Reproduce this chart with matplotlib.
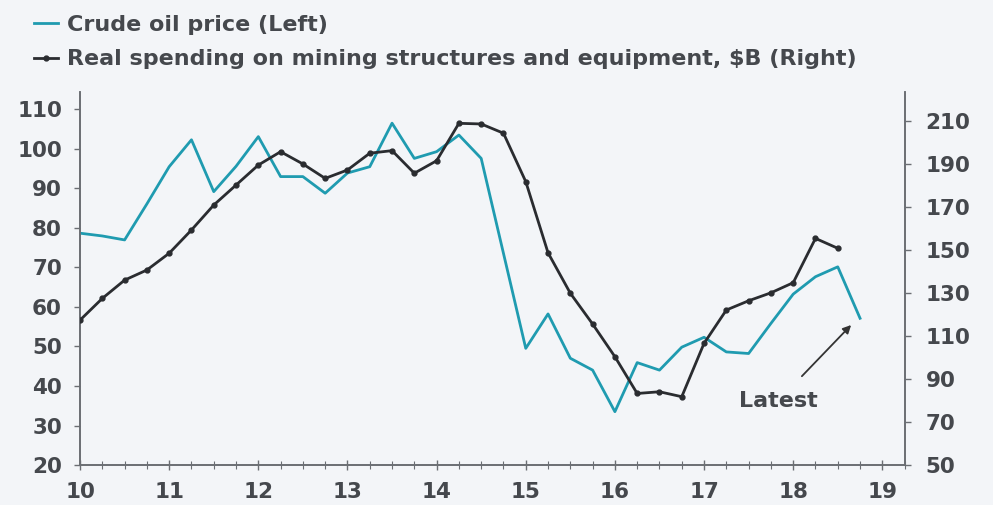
import matplotlib
matplotlib.use("Agg")
from matplotlib import pyplot as plt
import numpy as np

plt.rcParams['font.family'] = ['DejaVu Sans']
plt.rcParams['font.weight'] = 'bold'

# quarterly dates, 2010Q1 .. 2018Q4
oil_x = np.arange(36) * 0.25 + 10
oil = [78.6, 77.9, 76.9, 86.0, 95.4, 102.2, 89.1, 95.5, 103.0, 92.9, 92.9, 88.7,
       93.8, 95.4, 106.4, 97.5, 99.2, 103.4, 97.5, 73.5, 49.5, 58.2, 47.0, 44.0,
       33.5, 45.9, 44.0, 49.8, 52.3, 48.6, 48.2, 55.8, 63.2, 67.6, 70.1, 57.1]

spend_x = np.arange(35) * 0.25 + 10
spend = [117.4, 127.5, 136.0, 140.7, 148.5, 159.3, 170.9, 180.2, 189.5, 195.7, 190.0, 183.3,
         187.2, 195.0, 196.2, 185.7, 191.5, 208.9, 208.6, 204.3, 181.8, 148.7, 129.9, 115.6,
         100.4, 83.3, 84.1, 81.8, 106.6, 122.1, 126.4, 130.1, 134.8, 155.4, 150.8]

x_ticks = list(range(10, 20))
left_ticks = list(range(20, 111, 10))
right_ticks = list(range(50, 211, 20))

bg = '#f3f5f8'
teal = '#1f9bb0'
dark = '#2a2c30'
grey = '#6b6e73'
txt = '#45484d'
fs = 15.5

fig = plt.figure(figsize=(9.93, 5.05), dpi=100, facecolor=bg)
ax = fig.add_axes([0.0806, 0.079, 0.8304, 0.739])
ax.set_facecolor(bg)
ax2 = ax.twinx()

l1, = ax.plot(oil_x, oil, color=teal, lw=2.0, zorder=3)
l2, = ax2.plot(spend_x, spend, color=dark, lw=2.0, marker='o', markersize=3.5, zorder=4)

ax.set_xlim(10, 19.23)
ax.set_ylim(20, 114.3)
ax2.set_ylim(50, 223.5)

ax.set_xticks(x_ticks)
ax.set_xticks(np.arange(10, 19.3, 0.25), minor=True)
ax.set_yticks(left_ticks)
ax2.set_yticks(right_ticks)

for a in (ax, ax2):
    a.spines['top'].set_visible(False)
    for s in a.spines.values():
        s.set_color(grey)
        s.set_linewidth(1.2)

ax.tick_params(axis='x', which='major', direction='inout', length=7, width=1, color=grey,
               labelsize=fs, labelcolor=txt, pad=9)
ax.tick_params(axis='x', which='minor', direction='inout', length=6, width=0.8, color=grey)
ax.tick_params(axis='y', direction='out', length=4, width=1, color=grey,
               labelsize=fs, labelcolor=txt, pad=9)
ax2.tick_params(axis='y', direction='out', length=4, width=1, color=grey,
                labelsize=fs, labelcolor=txt, pad=11)

ax.annotate('Latest', xy=(18.65, 55.4), xytext=(17.83, 36.2),
            ha='center', va='center', fontsize=16, color=txt,
            arrowprops=dict(arrowstyle='-|>', color='#333333', lw=1.3,
                            mutation_scale=12, shrinkA=12, shrinkB=0))

fig.legend([l1, l2], ['Crude oil price (Left)',
                      'Real spending on mining structures and equipment, $B (Right)'],
           loc='upper left', bbox_to_anchor=(0.014, 1.01), frameon=False,
           fontsize=16, handlelength=1.1, handletextpad=0.4, labelspacing=0.65,
           labelcolor=txt)

fig.savefig('out.png', dpi=100, facecolor=bg)
